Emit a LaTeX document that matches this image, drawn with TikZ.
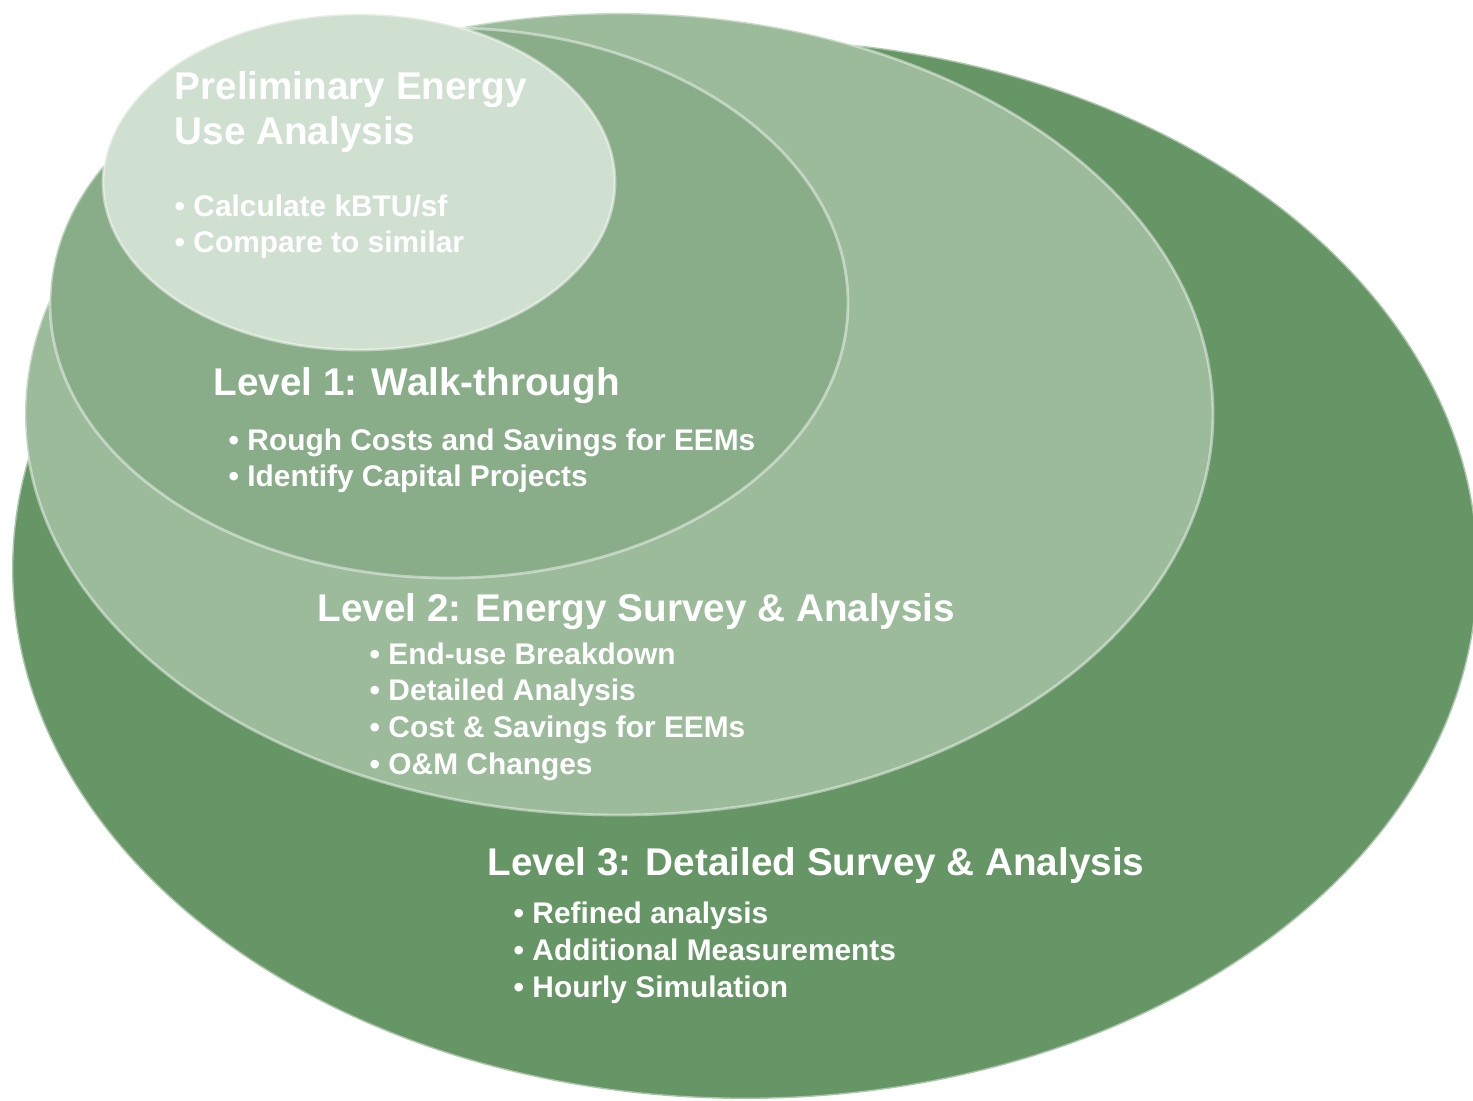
\documentclass[tikz,border=0pt]{standalone}
\usepackage{fontspec}
\setmainfont{Liberation Sans}
\usepackage{tikz}
\usetikzlibrary{shapes.geometric}

\definecolor{levelthree}{HTML}{669666}
\definecolor{leveltwo}{HTML}{9BBB9A}
\definecolor{levelone}{HTML}{88AD88}
\definecolor{prelim}{HTML}{D0E0D0}

\tikzset{
    stage/.style={shape=ellipse, inner sep=0pt, draw=white, draw opacity=0.45, line width=0.8pt},
    heading/.style={anchor=base west, inner sep=0pt, text=white, align=left,
        font=\bfseries\fontsize{11}{12.8}\selectfont},
    items/.style={anchor=base west, inner sep=0pt, text=white, align=left,
        font=\bfseries\fontsize{8.5}{10.4}\selectfont}}

\begin{document}
\begin{tikzpicture}

            \useasboundingbox (0,0) rectangle (14.73,11);
            \clip (0,0) rectangle (14.73,11);

            % nested stages, outermost first
            \node[stage, fill=levelthree, minimum width=14.66cm, minimum height=10.6cm] (L3) at (7.45,5.31) {};
            \node[stage, fill=leveltwo, minimum width=11.88cm, minimum height=8.02cm] (L2) at (6.19,6.86) {};
            \node[stage, fill=levelone, minimum width=7.98cm, minimum height=5.50cm] (L1) at (4.49,7.97) {};
            \node[stage, fill=prelim, minimum width=5.12cm, minimum height=3.36cm] (P) at (3.59,9.18) {};

            % text blocks sit on the baseline of their last line
            \node[heading] (Ptitle) at (1.74,9.55) {Preliminary Energy\\Use Analysis};
            \node[items] (Plist) at (1.74,8.47) {• Calculate kBTU/sf\\• Compare to similar};

            \node[heading] (L1title) at (2.13,7.04) {Level 1: Walk-through};
            \node[items] (L1list) at (2.28,6.13) {• Rough Costs and Savings for EEMs\\• Identify Capital Projects};

            \node[heading] (L2title) at (3.17,4.78) {Level 2: Energy Survey \& Analysis};
            \node[items] (L2list) at (3.69,3.26) {• End-use Breakdown\\• Detailed Analysis\\• Cost \& Savings for EEMs\\• O\&M Changes};

            \node[heading] (L3title) at (4.87,2.25) {Level 3: Detailed Survey \& Analysis};
            \node[items] (L3list) at (5.13,1.03) {• Refined analysis\\• Additional Measurements\\• Hourly Simulation};

        \end{tikzpicture}
\end{document}
